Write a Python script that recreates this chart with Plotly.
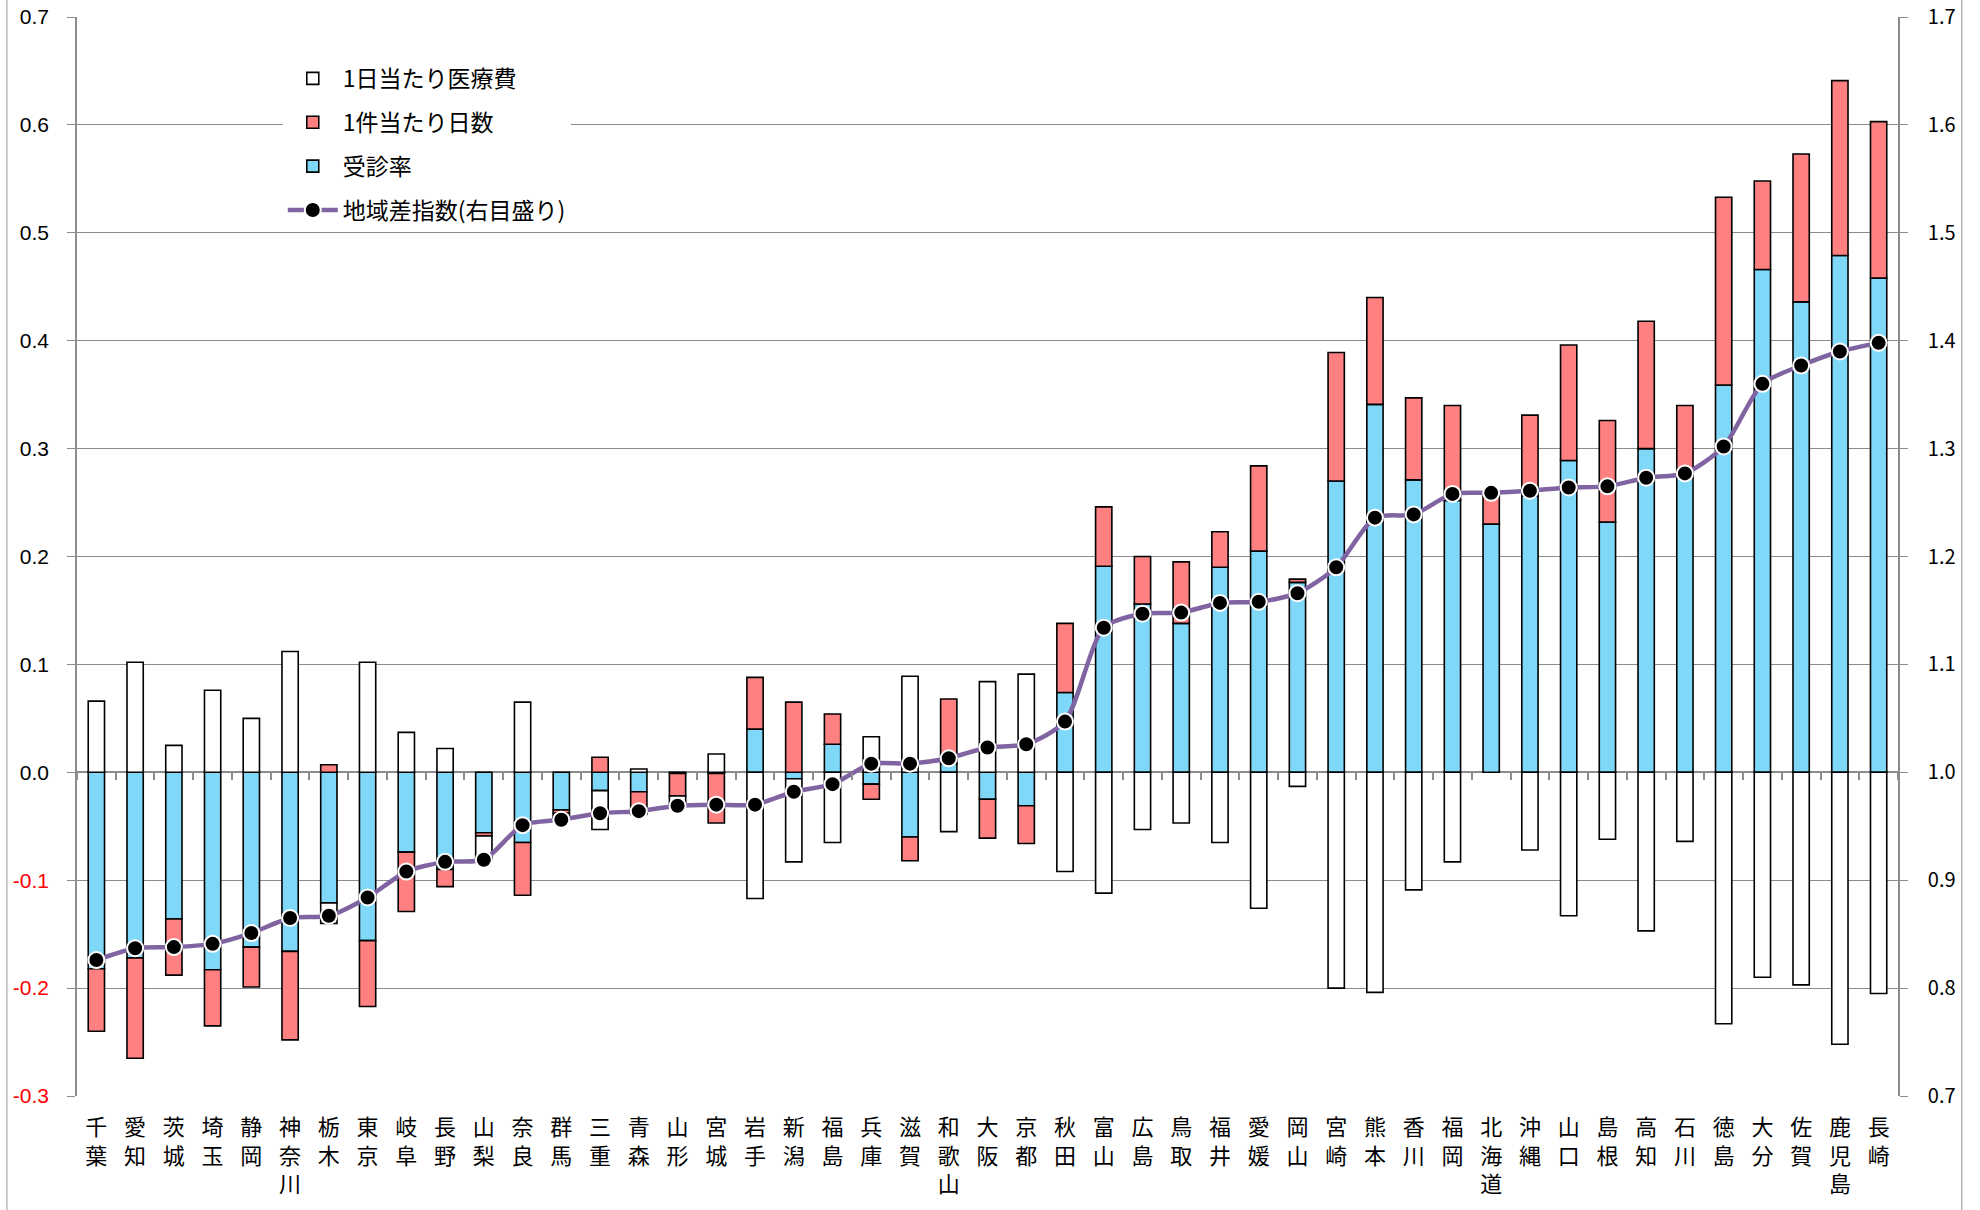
import plotly.graph_objects as go

# 都道府県（地域差指数の小さい順）
prefectures = [
    "千葉", "愛知", "茨城", "埼玉", "静岡", "神奈川", "栃木", "東京", "岐阜", "長野",
    "山梨", "奈良", "群馬", "三重", "青森", "山形", "宮城", "岩手", "新潟", "福島",
    "兵庫", "滋賀", "和歌山", "大阪", "京都", "秋田", "富山", "広島", "鳥取", "福井",
    "愛媛", "岡山", "宮崎", "熊本", "香川", "福岡", "北海道", "沖縄", "山口", "島根",
    "高知", "石川", "徳島", "大分", "佐賀", "鹿児島", "長崎",
]

# 寄与度：1日当たり医療費
daily_cost = [
    0.066, 0.102, 0.025, 0.076, 0.050, 0.112, -0.019, 0.102, 0.037, 0.022,
    -0.022, 0.065, -0.006, -0.036, 0.003, -0.009, 0.017, -0.117, -0.077, -0.065,
    0.033, 0.089, -0.055, 0.084, 0.091, -0.092, -0.112, -0.053, -0.047, -0.065,
    -0.126, -0.013, -0.200, -0.204, -0.109, -0.083, 0.000, -0.072, -0.133, -0.062,
    -0.147, -0.064, -0.233, -0.190, -0.197, -0.252, -0.205,
]

# 寄与度：1件当たり日数
days_per_case = [
    -0.058, -0.093, -0.052, -0.052, -0.037, -0.082, 0.007, -0.061, -0.055, -0.016,
    -0.003, -0.049, -0.003, 0.014, -0.021, -0.021, -0.046, 0.048, 0.065, 0.028,
    -0.014, -0.022, 0.060, -0.036, -0.035, 0.064, 0.055, 0.044, 0.057, 0.033,
    0.079, 0.003, 0.119, 0.099, 0.076, 0.088, 0.028, 0.075, 0.107, 0.094,
    0.118, 0.066, 0.174, 0.082, 0.137, 0.162, 0.145,
]

# 寄与度：受診率
visit_rate = [
    -0.182, -0.172, -0.136, -0.183, -0.162, -0.166, -0.121, -0.156, -0.074, -0.090,
    -0.056, -0.065, -0.035, -0.017, -0.018, -0.001, -0.001, 0.040, -0.006, 0.026,
    -0.011, -0.060, 0.008, -0.025, -0.031, 0.074, 0.191, 0.156, 0.138, 0.190,
    0.205, 0.176, 0.270, 0.341, 0.271, 0.252, 0.230, 0.256, 0.289, 0.232,
    0.300, 0.274, 0.359, 0.466, 0.436, 0.479, 0.458,
]

# 地域差指数（右目盛り）
regional_index = [
    0.826, 0.837, 0.838, 0.841, 0.851, 0.865, 0.867, 0.884, 0.908, 0.917,
    0.919, 0.951, 0.956, 0.962, 0.964, 0.969, 0.970, 0.970, 0.982, 0.989,
    1.008, 1.008, 1.013, 1.023, 1.026, 1.047, 1.134, 1.147, 1.148, 1.157,
    1.158, 1.166, 1.190, 1.236, 1.239, 1.258, 1.259, 1.261, 1.264, 1.265,
    1.273, 1.277, 1.302, 1.360, 1.377, 1.390, 1.398,
]

left_ticks = [0.7, 0.6, 0.5, 0.4, 0.3, 0.2, 0.1, 0.0, -0.1, -0.2, -0.3]
right_ticks = [1.7, 1.6, 1.5, 1.4, 1.3, 1.2, 1.1, 1.0, 0.9, 0.8, 0.7]

GRID = "#8C8C8C"
JP_FONT = "Noto Sans CJK JP"

# 縦書き風のカテゴリラベル
cat_labels = ["<br>".join(list(p)) for p in prefectures]
left_text = [
    f'<span style="color:#FF0000">{v:.1f}</span>' if v < 0 else f"{v:.1f}"
    for v in left_ticks
]

bar_line = dict(color="black", width=1.6)

fig = go.Figure()
fig.add_trace(go.Bar(
    x=prefectures, y=visit_rate, name="受診率",
    marker=dict(color="#80D8F8", line=bar_line),
    legendrank=3, legendgroup="c",
))
fig.add_trace(go.Bar(
    x=prefectures, y=days_per_case, name="1件当たり日数",
    marker=dict(color="#FF8080", line=bar_line),
    legendrank=2, legendgroup="b",
))
fig.add_trace(go.Bar(
    x=prefectures, y=daily_cost, name="1日当たり医療費",
    marker=dict(color="#FFFFFF", line=bar_line),
    legendrank=1, legendgroup="a",
))
fig.add_trace(go.Scatter(
    x=prefectures, y=regional_index, name="地域差指数(右目盛り)",
    xaxis="x2", yaxis="y2",
    mode="lines+markers",
    line=dict(color="#8064A2", width=4.5, shape="spline", smoothing=0.7),
    marker=dict(color="black", size=16, line=dict(color="white", width=2)),
    legendrank=4, legendgroup="d",
))

fig.update_layout(
    width=1980, height=1210,
    margin=dict(l=77, r=82, t=17, b=114, autoexpand=False),
    paper_bgcolor="white", plot_bgcolor="white",
    barmode="relative", bargap=0.58,
    font=dict(family=JP_FONT, color="black"),
    showlegend=True,
    legend=dict(
        x=0.113, y=0.963, xanchor="left", yanchor="top",
        bgcolor="white", borderwidth=0,
        font=dict(family=JP_FONT, size=23, color="black"),
        tracegroupgap=11, itemwidth=50,
    ),
    xaxis=dict(
        type="category", categoryorder="array", categoryarray=prefectures,
        tickmode="array", tickvals=prefectures, ticktext=cat_labels,
        range=[-0.5, len(prefectures) - 0.5],
        showgrid=False, showline=False, ticks="", zeroline=False,
        tickfont=dict(family=JP_FONT, size=22, color="black"),
        ticklabelstandoff=16, automargin=False,
    ),
    # 0 の位置に置く区切り目盛り用の軸
    xaxis2=dict(
        type="category", categoryorder="array", categoryarray=prefectures,
        overlaying="x", anchor="free", position=0.3,
        range=[-0.5, len(prefectures) - 0.5],
        showgrid=False, showline=False, zeroline=False,
        showticklabels=False, ticks="outside", tickson="boundaries",
        ticklen=7, tickwidth=1.5, tickcolor=GRID, automargin=False,
    ),
    yaxis=dict(
        range=[-0.3, 0.7],
        tickmode="array", tickvals=left_ticks, ticktext=left_text,
        showgrid=True, gridcolor=GRID, gridwidth=1.4,
        zeroline=True, zerolinecolor=GRID, zerolinewidth=1.6,
        showline=True, linecolor=GRID, linewidth=1.6,
        ticks="outside", ticklen=8, tickcolor=GRID, tickwidth=1.4,
        tickfont=dict(family="Liberation Sans", size=21, color="black"),
        ticklabelstandoff=14, automargin=False,
    ),
    yaxis2=dict(
        range=[0.7, 1.7], overlaying="y", side="right", anchor="x2",
        tickmode="array", tickvals=right_ticks,
        ticktext=[f"{v:.1f}" for v in right_ticks],
        showgrid=False, zeroline=False,
        showline=True, linecolor=GRID, linewidth=1.6,
        ticks="outside", ticklen=8, tickcolor=GRID, tickwidth=1.4,
        tickfont=dict(family=JP_FONT, size=20, color="black"),
        ticklabelstandoff=16, automargin=False,
    ),
    shapes=[
        dict(type="line", xref="paper", yref="paper",
             x0=-0.0385, x1=-0.0385, y0=-0.2, y1=1.1,
             line=dict(color="#A6A6A6", width=1.2)),
        dict(type="line", xref="paper", yref="paper",
             x0=1.035, x1=1.035, y0=-0.2, y1=1.1,
             line=dict(color="#A6A6A6", width=1.2)),
    ],
)

fig.write_html("out.html")
